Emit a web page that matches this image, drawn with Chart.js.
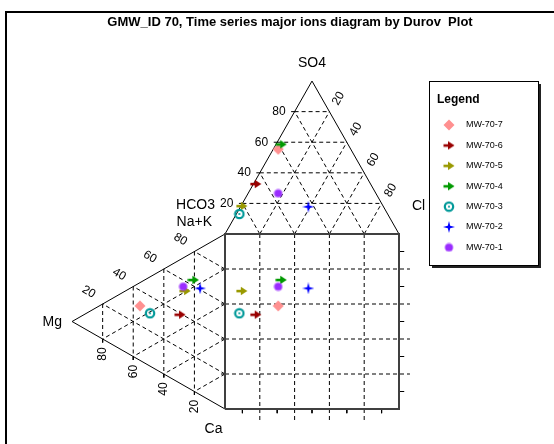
<!DOCTYPE html>
<html><head><meta charset="utf-8">
<script src="https://cdn.jsdelivr.net/npm/chart.js@4/dist/chart.umd.min.js"></script>
<style>html,body{margin:0;padding:0;background:#fff;}canvas{display:block;}</style>
</head><body>
<canvas id="c" width="554" height="444"></canvas>
<script>
// ---- data (percent of meq) ----
const samples = ['MW-70-7','MW-70-6','MW-70-5','MW-70-4','MW-70-3','MW-70-2','MW-70-1'];
const so4 = [55.4, 32.7, 18.3, 58.6, 13.1, 17.8, 26.6];
const cl  = [2.9, 1.3, 0.5, 3.0, 1.7, 39.0, 17.3];
const mg  = [55.6, 29.4, 26.1, 20.7, 49.0, 16.3, 27.3];
const nak = [31.1, 39.2, 54.4, 63.4, 30.2, 60.8, 56.3];
const tickValues = [20, 40, 60, 80];
const colors = ['#ff9090','#990000','#999900','#009900','#009999','#0000ff','#9a2cff'];
const markers = ['diamond','arrow','arrow','arrow','target','star','dot'];

// ---- geometry in data units (square = 0..100) ----
const H = 87.4, W = 87.9;
const topPt = (s, c) => ({x: c + s / 2, y: 100 + s / 100 * H});
const leftPt = (m, n) => ({x: -m / 100 * W, y: m / 2 + n});
const GAP = {x: 0, y: null};

// marker images
function makeMarker(kind, color){
  const cv = document.createElement('canvas');
  const g = cv.getContext('2d');
  if (kind === 'diamond'){ cv.width = 12; cv.height = 12; g.fillStyle = color;
    g.beginPath(); g.moveTo(6,0.5); g.lineTo(11.5,6); g.lineTo(6,11.5); g.lineTo(0.5,6); g.closePath(); g.fill(); }
  else if (kind === 'arrow'){ cv.width = 12; cv.height = 10; g.fillStyle = color;
    g.fillRect(0.5,3.8,6,2.6); g.beginPath(); g.moveTo(5,0.8); g.lineTo(11.5,5); g.lineTo(5,9.2); g.closePath(); g.fill(); }
  else if (kind === 'target'){ cv.width = 12; cv.height = 12; g.strokeStyle = color; g.lineWidth = 2.2;
    g.beginPath(); g.arc(6,6,4.2,0,Math.PI*2); g.stroke(); g.fillStyle = color;
    g.beginPath(); g.arc(6,6,1.1,0,Math.PI*2); g.fill(); }
  else if (kind === 'star'){ cv.width = 12; cv.height = 12; g.fillStyle = color;
    g.beginPath(); g.moveTo(6,0); g.lineTo(7.2,4.8); g.lineTo(12,6); g.lineTo(7.2,7.2); g.lineTo(6,12);
    g.lineTo(4.8,7.2); g.lineTo(0,6); g.lineTo(4.8,4.8); g.closePath(); g.fill(); }
  else { cv.width = 10; cv.height = 10; g.fillStyle = color; g.globalAlpha = 0.5;
    g.beginPath(); g.arc(5,5,4.6,0,Math.PI*2); g.fill(); g.globalAlpha = 1;
    g.beginPath(); g.arc(5,5,3.6,0,Math.PI*2); g.fill(); }
  return cv;
}
const markerImgs = samples.map((s, i) => makeMarker(markers[i], colors[i]));

// ---- line data ----
const outline = [{x:0,y:100},{x:50,y:100+H},{x:100,y:100},GAP,{x:0,y:100},{x:-W,y:50},{x:0,y:0}];
const square = [{x:0,y:0},{x:100,y:0},{x:100,y:100},{x:0,y:100},{x:0,y:0}];
const dashed = [];
tickValues.forEach(k => {
  // top triangle
  dashed.push(topPt(k,0), topPt(k,100-k), GAP);
  dashed.push(topPt(0,k), topPt(100-k,k), GAP);
  dashed.push(topPt(0,100-k), topPt(100-k,0), GAP);
  // left triangle
  dashed.push(leftPt(k,100-k), leftPt(k,0), GAP);
  dashed.push(leftPt(0,k), leftPt(100-k,k), GAP);
  dashed.push(leftPt(0,100-k), leftPt(100-k,0), GAP);
  // square
  dashed.push({x:k,y:100},{x:k,y:-6.3},GAP);
  dashed.push({x:0,y:k},{x:106.3,y:k},GAP);
});
const ticks = [];
[10,30,50,70,90].forEach(k => {
  ticks.push({x:k,y:0},{x:k,y:-2.4},GAP);
  ticks.push({x:100,y:k},{x:103,y:k},GAP);
});
tickValues.forEach(k => {
  const a = topPt(k,0); ticks.push(a,{x:a.x-2,y:a.y},GAP);
  const b = leftPt(k,0); ticks.push(b,{x:b.x,y:b.y-2},GAP);
  ticks.push({x:0,y:k},{x:-2.3,y:k},GAP);
});

// ---- sample datasets ----
const pointSets = samples.map((name, i) => {
  const t = topPt(so4[i], cl[i]);
  const l = leftPt(mg[i], nak[i]);
  return {label: name, data: [t, l, {x: t.x, y: l.y}], showLine: false,
    pointStyle: markerImgs[i], pointRadius: 5, pointHoverRadius: 5, order: 0};
}).reverse();

const lineDs = (data, color, width, dash, order) => ({label: '', data, showLine: true, spanGaps: false,
  borderColor: color, borderWidth: width, borderDash: dash, pointRadius: 0, pointHoverRadius: 0, fill: false, order});

const xMin = -225 / 1.74, xMax = (554 - 225) / 1.74;
const yMin = (409 - 444) / 1.75, yMax = 409 / 1.75;

const decor = {
  id: 'decor',
  beforeDraw(chart){
    const c = chart.ctx; c.save(); c.fillStyle = '#fff'; c.fillRect(0,0,554,444);
    c.strokeStyle = '#000'; c.lineWidth = 2; c.strokeRect(6,12,600,500); c.restore();
  },
  afterDraw(chart){
    const c = chart.ctx, xs = chart.scales.x, ys = chart.scales.y;
    const P = p => [xs.getPixelForValue(p.x), ys.getPixelForValue(p.y)];
    c.save();
    c.fillStyle = '#000'; c.textBaseline = 'middle';
    c.font = 'bold 13px "Liberation Sans", Arial, sans-serif'; c.textAlign = 'center';
    c.fillText('GMW_ID 70, Time series major ions diagram by Durov  Plot', 290, 22);
    c.font = '14px "Liberation Sans", Arial, sans-serif';
    let [ax, ay] = P({x:50, y:100+H}); c.fillText('SO4', ax, ay - 18);
    c.textAlign = 'right';
    let [bx, by] = P({x:0, y:100});
    c.fillText('HCO3', bx - 10, by - 29); c.fillText('Na+K', bx - 13, by - 12);
    c.textAlign = 'left';
    let [cx, cy] = P({x:100, y:100}); c.fillText('Cl', cx + 13, cy - 28);
    let [mx, my] = P({x:-W, y:50}); c.textAlign = 'right'; c.fillText('Mg', mx - 10, my + 1);
    let [qx, qy] = P({x:0, y:0}); c.textAlign = 'center'; c.fillText('Ca', qx - 11.5, qy + 20);
    c.font = '12px "Liberation Sans", Arial, sans-serif';
    tickValues.forEach(k => {
      // top-left edge: SO4
      let [x1, y1] = P(topPt(k, 0)); c.textAlign = 'right'; c.fillText(String(k), x1 - 9, y1);
      // top-right edge: Cl
      let [x2, y2] = P(topPt(100 - k, k));
      c.save(); c.translate(x2 + 9, y2 - 13); c.rotate(-Math.PI / 3); c.textAlign = 'center'; c.fillText(String(k), 0, 0); c.restore();
      // left upper edge: Na+K
      let [x3, y3] = P(leftPt(100 - k, k));
      c.save(); c.translate(x3 - 14, y3 - 12); c.rotate(Math.PI / 6); c.textAlign = 'center'; c.fillText(String(k), 0, 0); c.restore();
      // left lower edge: Mg
      let [x4, y4] = P(leftPt(k, 0));
      c.save(); c.translate(x4, y4 + 15); c.rotate(-Math.PI / 2); c.textAlign = 'center'; c.fillText(String(k), 0, 0); c.restore();
    });
    // legend
    const lx = 429, ly = 81, lw = 109, lh = 184;
    c.fillStyle = '#222'; c.fillRect(lx + 3, ly + 3, lw, lh);
    c.fillStyle = '#fff'; c.fillRect(lx, ly, lw, lh);
    c.strokeStyle = '#000'; c.lineWidth = 1; c.strokeRect(lx + 0.5, ly + 0.5, lw, lh);
    c.fillStyle = '#000'; c.textAlign = 'left';
    c.font = 'bold 12px "Liberation Sans", Arial, sans-serif'; c.fillText('Legend', 437, 100);
    c.font = '9px "Liberation Sans", Arial, sans-serif';
    samples.forEach((name, i) => {
      const yy = 125 + i * 20.4, img = markerImgs[i];
      c.drawImage(img, 449 - img.width / 2, yy - img.height / 2);
      c.fillText(name, 466, yy);
    });
    c.restore();
  }
};

new Chart(document.getElementById('c'), {
  type: 'scatter',
  data: {datasets: [
    ...pointSets,
    lineDs(square, '#404040', 2, [], 1),
    lineDs(outline, '#000', 1, [], 2),
    lineDs(ticks, '#000', 1, [], 3),
    lineDs(dashed, '#000', 1, [4, 3], 4)
  ]},
  options: {
    responsive: false, animation: false, devicePixelRatio: 1,
    layout: {padding: 0, autoPadding: false},
    scales: {
      x: {type: 'linear', min: xMin, max: xMax, display: false},
      y: {type: 'linear', min: yMin, max: yMax, display: false}
    },
    plugins: {legend: {display: false}, tooltip: {enabled: false}, title: {display: false}}
  },
  plugins: [decor]
});
</script>
</body></html>
